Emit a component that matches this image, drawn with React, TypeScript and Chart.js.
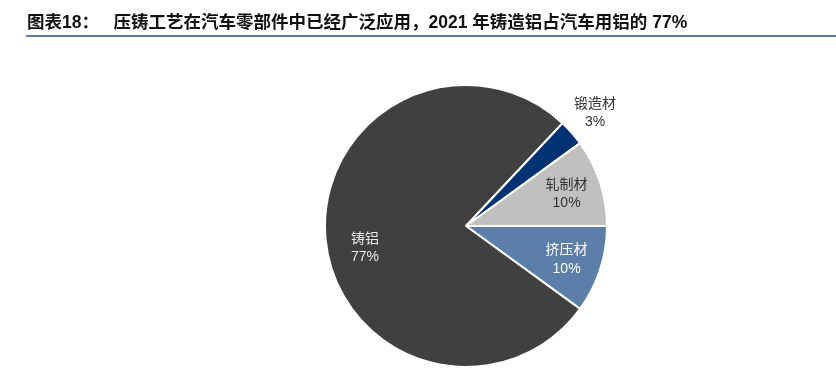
import React, { useEffect, useRef } from "react";
import { Chart, registerables } from "chart.js";

Chart.register(...registerables);

const TITLE = "图表18：   压铸工艺在汽车零部件中已经广泛应用，2021 年铸造铝占汽车用铝的 77%";
const categories = ["挤压材", "铸铝", "锻造材", "轧制材"];
const shares = [10, 77, 3, 10];
const shareLabels = ["10%", "77%", "3%", "10%"];

const sliceColors = ["#5B7FA9", "#404040", "#003274", "#C0C0C0"];
const labelColors = ["#FFFFFF", "#E6E6E6", "#333333", "#333333"];
const labelRadius = [0.75, 0.72, 1.22, 0.75];
const labelShiftY = [0, 12, 0, 0];

export default function App() {
  const ref = useRef<HTMLCanvasElement | null>(null);

  useEffect(() => {
    const canvas = ref.current;
    if (!canvas) return;

    const titlePlugin = {
      id: "titlePlugin",
      beforeDraw(chart: any) {
        const ctx = chart.ctx;
        ctx.save();
        ctx.fillStyle = "#ffffff";
        ctx.fillRect(0, 0, chart.width, chart.height);
        ctx.fillStyle = "#111111";
        ctx.font = "bold 17.5px 'Liberation Sans', 'Noto Sans CJK SC', sans-serif";
        ctx.textBaseline = "middle";
        ctx.textAlign = "left";
        ctx.fillText(TITLE, 27, 23);
        ctx.strokeStyle = "#5B7FA9";
        ctx.lineWidth = 2;
        ctx.beginPath();
        ctx.moveTo(26, 36);
        ctx.lineTo(chart.width, 36);
        ctx.stroke();
        ctx.restore();
      },
    };

    const labelPlugin = {
      id: "labelPlugin",
      afterDatasetsDraw(chart: any) {
        const ctx = chart.ctx;
        const meta = chart.getDatasetMeta(0);
        ctx.save();
        ctx.textAlign = "center";
        ctx.textBaseline = "middle";
        meta.data.forEach((arc: any, i: number) => {
          const p = arc.getProps(["x", "y", "startAngle", "endAngle", "outerRadius"], true);
          const mid = (p.startAngle + p.endAngle) / 2;
          const r = p.outerRadius * labelRadius[i];
          const cx = p.x + Math.cos(mid) * r;
          const cy = p.y + Math.sin(mid) * r + labelShiftY[i];
          ctx.fillStyle = labelColors[i];
          ctx.font = "14px 'Noto Sans CJK SC', sans-serif";
          ctx.fillText(categories[i], cx, cy - 10);
          ctx.font = "14px 'Liberation Sans', sans-serif";
          ctx.fillText(shareLabels[i], cx, cy + 10);
        });
        ctx.restore();
      },
    };

    const chart = new Chart(canvas, {
      type: "pie",
      data: {
        labels: categories,
        datasets: [
          {
            data: shares,
            backgroundColor: sliceColors,
            borderColor: "#ffffff",
            borderWidth: 2,
            hoverOffset: 0,
          },
        ],
      },
      options: {
        responsive: false,
        maintainAspectRatio: false,
        animation: false,
        events: [],
        rotation: 90,
        radius: 141,
        layout: { padding: { left: 96, right: 0, top: 82, bottom: 0 } },
        plugins: {
          legend: { display: false },
          tooltip: { enabled: false },
          title: { display: false },
        },
      } as any,
      plugins: [titlePlugin, labelPlugin],
    });

    return () => chart.destroy();
  }, []);

  return (
    <div style={{ position: "fixed", left: 0, top: 0, width: 836, height: 370, background: "#fff" }}>
      <canvas ref={ref} width={836} height={370} style={{ display: "block", width: 836, height: 370 }} />
    </div>
  );
}
